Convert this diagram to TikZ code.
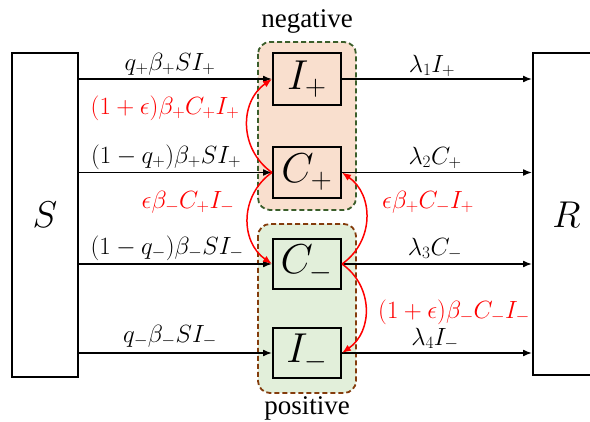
\documentclass[tikz,border=0pt]{standalone}
\usepackage{graphicx}
\usepackage{fontspec}
\setmainfont{Liberation Serif}
\usetikzlibrary{arrows.meta}
\DeclareMathSizes{23}{23}{18}{14}
\newcommand\statelab[1]{\scalebox{1.68}{$#1$}}
\newcommand\bigboxlab[1]{\scalebox{1.5}{$#1$}}
\definecolor{negfill}{HTML}{F9DFCE}
\definecolor{posfill}{HTML}{E2EFDA}
\definecolor{negborder}{HTML}{3B5E2B}
\definecolor{posborder}{HTML}{843C0C}
\definecolor{redc}{HTML}{FF0000}
\begin{document}
\begin{tikzpicture}[x=1pt,y=-1pt,
  bigbox/.style={draw,line width=2pt,fill=white,minimum width=66pt,inner sep=0pt,font=\fontsize{23}{25}\selectfont},
  statebox/.style={draw,line width=2pt,minimum width=68pt,minimum height=51pt,inner sep=0pt,font=\fontsize{23}{25}\selectfont},
  group/.style={draw,line width=1.8pt,rounded corners=12pt,dash pattern=on 5pt off 3pt},
  flow/.style={-{Latex[length=9pt,width=7pt]},line width=1.5pt},
  rflow/.style={-{Latex[length=9pt,width=7pt]},line width=1.5pt,draw=redc},
  lab/.style={font=\fontsize{23}{25}\selectfont,inner sep=0pt},
  rlab/.style={font=\fontsize{23}{25}\selectfont,inner sep=0pt,text=redc},
  grouplab/.style={font=\fontsize{27}{29}\selectfont,inner sep=0pt}]
\useasboundingbox (0,0) rectangle (590,422);
% groups
\draw[group,draw=negborder,fill=negfill] (258,42) rectangle (356,210);
\draw[group,draw=posborder,fill=posfill] (258,224) rectangle (356,393);
\node[grouplab] (neglab) at (307,21) {negative};
\node[grouplab] (poslab) at (307,408) {positive};
% big boxes
\node[bigbox,minimum height=324pt] (S) at (45,215) {\bigboxlab{S}};
\node[bigbox,minimum width=67pt,minimum height=322pt] (R) at (566.5,214.5) {\bigboxlab{R}};
% states
\node[statebox,minimum height=52pt] (Ip) at (307,79) {\statelab{I_+}};
\node[statebox] (Cp) at (307,172.5) {\statelab{C_+}};
\node[statebox,minimum height=50pt] (Cm) at (307,264) {\statelab{C_-}};
\node[statebox,minimum height=50pt] (Im) at (307,353) {\statelab{I_-}};
% flows from S
\draw[flow] (S.east |- Ip.west) -- (Ip.west);
\draw[flow] (S.east |- Cp.west) -- (Cp.west);
\draw[flow] (S.east |- Cm.west) -- (Cm.west);
\draw[flow] (S.east |- Im.west) -- (Im.west);
% flows to R
\draw[flow] (Ip.east) -- (R.west |- Ip.east);
\draw[flow] (Cp.east) -- (R.west |- Cp.east);
\draw[flow] (Cm.east) -- (R.west |- Cm.east);
\draw[flow] (Im.east) -- (R.west |- Im.east);
% labels
\node[lab] (l1) at (170,64) {$q_+\beta_+SI_+$};
\node[lab] (l2) at (166,157) {$(1-q_+)\beta_+SI_+$};
\node[lab] (l3) at (167,248) {$(1-q_-)\beta_-SI_-$};
\node[lab] (l4) at (170,336) {$q_-\beta_-SI_-$};
\node[lab] (m1) at (432,66) {$\lambda_1I_+$};
\node[lab] (m2) at (435,158) {$\lambda_2C_+$};
\node[lab] (m3) at (435,249) {$\lambda_3C_-$};
\node[lab] (m4) at (435,339) {$\lambda_4I_-$};
% red curves
\draw[rflow] (Cp.west) to[out=145,in=215,looseness=1.1] (Ip.west);
\draw[rflow] (Cp.west) to[out=215,in=145,looseness=1.1] (Cm.west);
\draw[rflow] (Cm.east) to[out=35,in=-35,looseness=1.1] (Cp.east);
\draw[rflow] (Cm.east) to[out=-35,in=35,looseness=1.1] (Im.east);
\node[rlab] (r1) at (165,108) {$(1+\epsilon)\beta_+C_+I_+$};
\node[rlab] (r2) at (188,202) {$\epsilon\beta_-C_+I_-$};
\node[rlab] (r3) at (428,202) {$\epsilon\beta_+C_-I_+$};
\node[rlab] (r4) at (454,312) {$(1+\epsilon)\beta_-C_-I_-$};
\end{tikzpicture}
\end{document}
